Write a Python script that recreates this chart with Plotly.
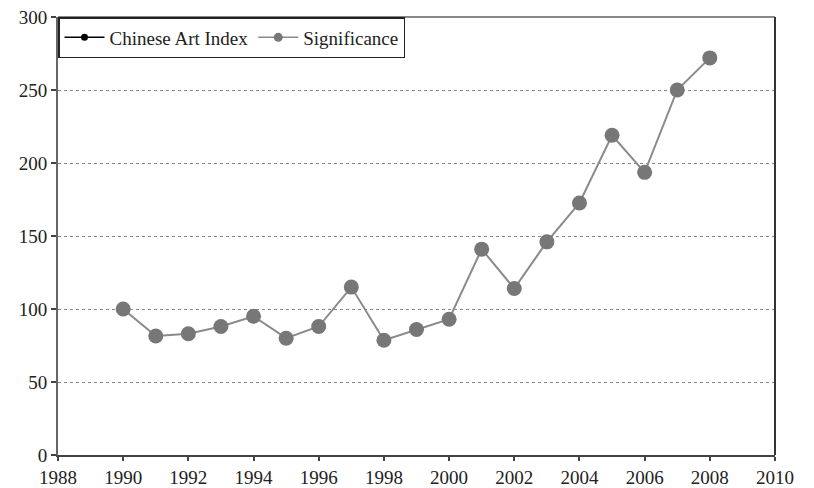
import plotly.graph_objects as go

years = list(range(1990, 2009))
significance = [100, 81.5, 83, 88, 95, 80, 88, 115, 78.6, 86, 93,
                141, 114, 146, 172.6, 219, 193.6, 250, 272]
x_ticks = list(range(1988, 2011, 2))
y_ticks = [0, 50, 100, 150, 200, 250, 300]

fig = go.Figure()
fig.add_trace(go.Scatter(
    x=[None], y=[None], name="Chinese Art Index", mode="lines+markers",
    line=dict(color="black", width=1.5), marker=dict(color="black", size=7)))
fig.add_trace(go.Scatter(
    x=[None], y=[None], name="Significance", mode="lines+markers",
    line=dict(color="#8a8a8a", width=1.5), marker=dict(color="#777777", size=9)))
fig.add_trace(go.Scatter(
    x=years, y=significance, name="Significance", mode="lines+markers",
    showlegend=False,
    line=dict(color="#8a8a8a", width=2),
    marker=dict(color="#777777", size=15)))

fig.update_layout(
    width=814, height=488,
    margin=dict(l=58, r=39, t=17, b=33, autoexpand=False),
    paper_bgcolor="white", plot_bgcolor="white",
    font=dict(family="Liberation Serif", size=19, color="#222"),
    showlegend=True,
    legend=dict(orientation="h", x=0, y=1, xanchor="left", yanchor="top",
                bordercolor="#222", borderwidth=1.5, bgcolor="white",
                font=dict(size=19, family="Liberation Serif"),
                itemwidth=40, tracegroupgap=0),
    xaxis=dict(range=[1988, 2010], tickvals=x_ticks, showgrid=False,
               showline=True, linecolor="#444", linewidth=2,
               ticks="outside", ticklen=4, tickcolor="#444", tickwidth=2,
               zeroline=False, fixedrange=True, automargin=False),
    yaxis=dict(range=[0, 300], tickvals=y_ticks, showgrid=True,
               gridcolor="#888", griddash="dot", gridwidth=1.2,
               showline=True, linecolor="#666", linewidth=2,
               ticks="outside", ticklen=5, tickcolor="#444", tickwidth=2,
               zeroline=False, fixedrange=True, automargin=False),
    shapes=[
        dict(type="line", xref="paper", yref="paper", x0=0, x1=1, y0=1, y1=1,
             line=dict(color="#888", width=2)),
        dict(type="line", xref="paper", yref="paper", x0=1, x1=1, y0=0, y1=1,
             line=dict(color="#333", width=2)),
    ],
)

fig.write_html("out.html", config={"displayModeBar": False},
               post_script="document.body.style.margin='0px';document.body.style.padding='0px';")
